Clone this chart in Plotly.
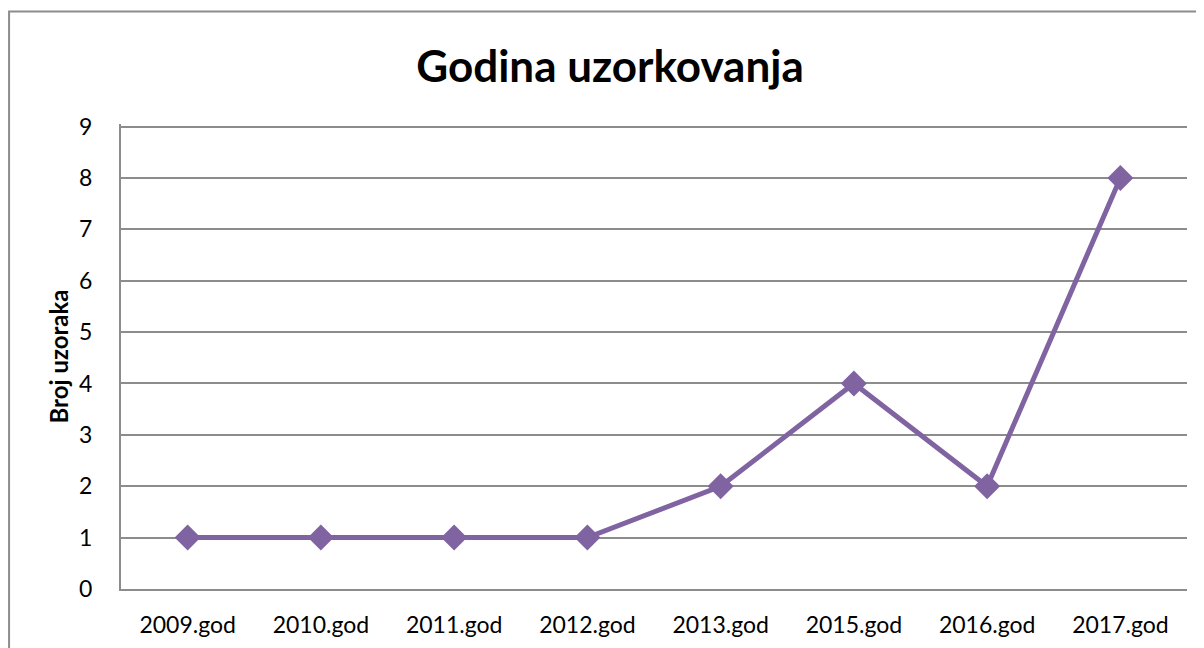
import plotly.graph_objects as go

godine = ['2009.god', '2010.god', '2011.god', '2012.god',
          '2013.god', '2015.god', '2016.god', '2017.god']
broj_uzoraka = [1, 1, 1, 1, 2, 4, 2, 8]

ljubicasta = '#8064A2'
font = 'Lato, Liberation Sans, sans-serif'

fig = go.Figure()
fig.add_trace(go.Scatter(
    x=godine, y=broj_uzoraka,
    mode='lines+markers',
    line=dict(color=ljubicasta, width=5),
    marker=dict(symbol='diamond', size=20, color=ljubicasta),
    showlegend=False,
))

# okvir grafikona (kao u Excelu)
fig.add_shape(type='rect', xref='paper', yref='paper',
              x0=-0.105, x1=1.2, y0=-0.3, y1=1.242,
              line=dict(color='#8c8c8c', width=2), layer='below')

fig.update_layout(
    width=1204, height=648,
    margin=dict(l=113, r=25, t=116, b=67),
    plot_bgcolor='white', paper_bgcolor='white',
    font=dict(family=font, size=23, color='black'),
    title=dict(text='<b>Godina uzorkovanja</b>', x=0.5, xanchor='center',
               y=0.91, yanchor='middle', font=dict(size=44, family=font)),
    xaxis=dict(showgrid=False, showline=True, linecolor='#8c8c8c', linewidth=2,
               ticks='', ticklabelstandoff=14, range=[-0.5, 7.5]),
    yaxis=dict(range=[0, 9.05], tickvals=list(range(10)), showgrid=True,
               gridcolor='#8c8c8c', gridwidth=2,
               showline=True, linecolor='#8c8c8c', linewidth=2, zeroline=False,
               ticks='', ticklabelstandoff=22,
               title=dict(text='<b>Broj uzoraka</b>', font=dict(size=24), standoff=4)),
)

fig.write_html('out.html')
